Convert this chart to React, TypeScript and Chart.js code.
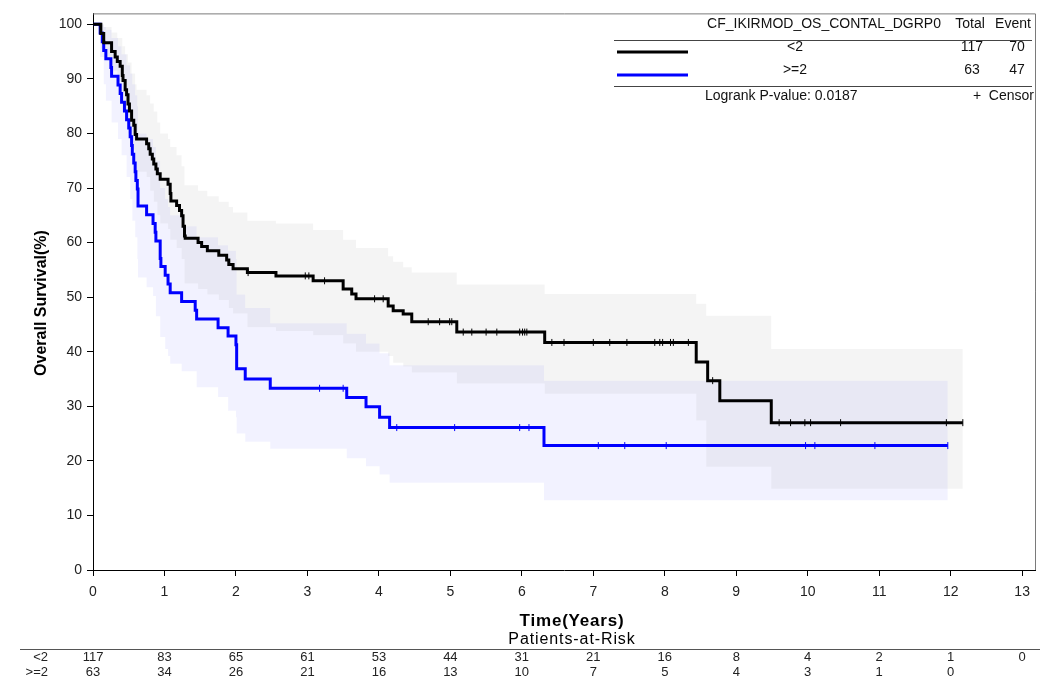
import { useEffect, useRef } from 'react';
import { Chart, registerables } from 'chart.js';

Chart.register(...registerables);

const FONT = "'Liberation Sans', Arial, sans-serif";

// Axis ticks
const xTicks = [0, 1, 2, 3, 4, 5, 6, 7, 8, 9, 10, 11, 12, 13];
const yTicks = [0, 10, 20, 30, 40, 50, 60, 70, 80, 90, 100];

// Groups
const groupLabels = ['<2', '>=2'];
const groupTotals = [117, 63];
const groupEvents = [70, 47];
const logrankP = '0.0187';

// Kaplan-Meier estimate, group <2 (time in years, survival in %)
const lowTimes = [0, 0.11, 0.15, 0.26, 0.31, 0.34, 0.38, 0.41, 0.42, 0.45, 0.47, 0.49, 0.51, 0.54, 0.57, 0.59, 0.61, 0.75, 0.78, 0.8, 0.83, 0.85, 0.88, 0.9, 0.94, 1.05, 1.08, 1.09, 1.17, 1.21, 1.24, 1.26, 1.28, 1.29, 1.47, 1.52, 1.6, 1.76, 1.87, 1.9, 1.96, 2.16, 2.56, 3.08, 3.5, 3.62, 3.68, 4.13, 4.2, 4.34, 4.46, 5.09, 6.32, 8.44, 8.6, 8.77, 9.49];
const lowSurv = [100, 98.3, 96.6, 95.0, 94.0, 93.2, 92.3, 90.6, 89.7, 88.0, 87.1, 85.4, 84.1, 82.4, 81.5, 79.8, 79.0, 78.1, 77.2, 76.2, 75.3, 74.4, 73.5, 72.6, 71.6, 70.7, 69.0, 67.6, 66.8, 65.9, 64.9, 63.0, 61.2, 60.8, 60.0, 59.3, 58.5, 57.7, 56.8, 56.0, 55.2, 54.5, 53.9, 53.0, 51.5, 50.6, 49.7, 48.4, 47.5, 46.9, 45.5, 43.6, 41.7, 38.1, 34.7, 31.0, 27.0];
const lowEnd = 12.17;
const lowCensor = [2.17, 2.97, 3.02, 3.24, 3.94, 4.06, 4.69, 4.85, 4.99, 5.02, 5.18, 5.3, 5.5, 5.65, 5.97, 6.01, 6.04, 6.07, 6.42, 6.59, 7.0, 7.23, 7.47, 7.86, 7.93, 7.97, 8.08, 8.12, 8.33, 8.67, 9.6, 9.76, 9.96, 10.04, 10.46, 11.94, 12.17];

// 95% confidence band, group <2
const lowBandTimes = [0, 0.11, 0.15, 0.26, 0.34, 0.41, 0.45, 0.49, 0.54, 0.59, 0.61, 0.75, 0.8, 0.85, 0.9, 0.94, 1.05, 1.08, 1.17, 1.24, 1.28, 1.47, 1.6, 1.76, 1.9, 1.96, 2.16, 2.56, 3.08, 3.5, 3.68, 4.13, 4.2, 4.34, 4.46, 5.09, 6.32, 8.44, 8.58, 9.49];
const lowUpper = [100, 100, 99.5, 98.5, 97.5, 96, 94.5, 93, 91, 89, 88, 87, 85.5, 84, 82, 80, 79, 77.5, 76, 74, 70.5, 69.5, 68.5, 67.5, 66.5, 65.5, 64, 63.5, 62.3, 60.5, 59, 57.5, 56.5, 55.5, 54.5, 52.3, 50.6, 48.8, 46.6, 40.5];
const lowLower = [100, 95.5, 93.5, 91.5, 89.5, 86, 83.5, 80, 77, 74.5, 73, 72, 69.5, 67.5, 65, 63.5, 62.5, 60.5, 59, 57, 52.5, 51.5, 50.5, 49.5, 48, 47, 44.5, 43.8, 43.0, 41.5, 40, 39.2, 38.0, 37.3, 36.2, 34.2, 32.3, 27.4, 18.9, 14.9];

// Kaplan-Meier estimate, group >=2
const highTimes = [0, 0.1, 0.13, 0.15, 0.18, 0.25, 0.26, 0.35, 0.38, 0.4, 0.44, 0.47, 0.5, 0.52, 0.54, 0.55, 0.57, 0.59, 0.6, 0.62, 0.63, 0.75, 0.84, 0.87, 0.88, 0.94, 0.95, 1.01, 1.05, 1.08, 1.24, 1.43, 1.45, 1.75, 1.89, 2.0, 2.01, 2.13, 2.48, 3.55, 3.82, 4.01, 4.15, 6.31];
const highSurv = [100, 98.4, 96.8, 95.2, 93.7, 92.1, 90.5, 88.9, 87.3, 85.7, 84.1, 82.5, 81.0, 79.4, 77.8, 76.2, 74.6, 73.0, 71.4, 69.8, 66.7, 65.1, 63.5, 61.9, 60.3, 57.1, 55.6, 54.0, 52.4, 50.8, 49.2, 47.6, 46.0, 44.4, 42.9, 41.3, 36.9, 35.0, 33.3, 31.6, 29.9, 28.0, 26.1, 22.8];
const highEnd = 11.96;
const highCensor = [3.17, 3.5, 4.25, 5.06, 5.97, 6.1, 7.07, 7.44, 8.02, 9.97, 10.1, 10.94, 11.96];

// 95% confidence band, group >=2
const highBandTimes = [0, 0.1, 0.15, 0.18, 0.26, 0.35, 0.4, 0.47, 0.52, 0.55, 0.59, 0.62, 0.63, 0.75, 0.84, 0.88, 0.94, 1.01, 1.05, 1.08, 1.24, 1.45, 1.75, 1.89, 2.0, 2.01, 2.13, 2.48, 3.55, 3.82, 4.01, 4.15, 6.31];
const highUpper = [100, 100, 99.5, 99, 97.5, 96, 94.5, 92.5, 91, 89, 87, 85, 80, 79, 77.5, 75, 70, 68, 66.5, 65, 63, 61, 59.5, 58.5, 57, 50.5, 48, 45.2, 43.3, 41.5, 39.7, 37.5, 34.7];
const highLower = [100, 94, 89, 86, 82, 79, 76, 72, 68, 64, 61, 57, 53.6, 51.8, 50.2, 46.5, 42.7, 40.5, 39.2, 37.8, 36.4, 33.5, 31.7, 29.2, 28, 25.0, 23.5, 22.2, 20.5, 19.0, 17.5, 16.0, 12.8];

// Patients at risk at each year
const riskLow = [117, 83, 65, 61, 53, 44, 31, 21, 16, 8, 4, 2, 1, 0];
const riskHigh = [63, 34, 26, 21, 16, 13, 10, 7, 5, 4, 3, 1, 0];

const stepPoints = (times: number[], vals: number[], end: number) => {
  const pts = times.map((t, i) => ({ x: t, y: vals[i] }));
  pts.push({ x: end, y: vals[vals.length - 1] });
  return pts;
};

const survivalAt = (times: number[], vals: number[], t: number) => {
  let v = vals[0];
  for (let i = 0; i < times.length; i++) {
    if (times[i] <= t) v = vals[i];
  }
  return v;
};

const censorPoints = (censor: number[], times: number[], vals: number[]) =>
  censor.map((t) => ({ x: t, y: survivalAt(times, vals, t) }));

const overlayPlugin = {
  id: 'kmOverlay',
  afterDraw(chart: any) {
    const { ctx, chartArea } = chart;
    const xs = chart.scales.x;
    ctx.save();

    // plot frame (top and right)
    ctx.strokeStyle = '#7a7a7a';
    ctx.lineWidth = 1;
    ctx.beginPath();
    ctx.moveTo(chartArea.left, chartArea.top + 0.5);
    ctx.lineTo(chartArea.right + 0.5, chartArea.top + 0.5);
    ctx.lineTo(chartArea.right + 0.5, chartArea.bottom);
    ctx.stroke();

    ctx.fillStyle = '#000';
    ctx.textBaseline = 'middle';

    // axis titles
    ctx.font = `bold 16px ${FONT}`;
    ctx.textAlign = 'center';
    ctx.save();
    ctx.translate(42, 303);
    ctx.rotate(-Math.PI / 2);
    ctx.fillText('Overall Survival(%)', 0, 0);
    ctx.restore();
    ctx.font = `bold 17px ${FONT}`;
    ctx.letterSpacing = '0.8px';
    ctx.fillText('Time(Years)', 572, 621);

    // patients-at-risk heading
    ctx.font = `16px ${FONT}`;
    ctx.letterSpacing = '0.9px';
    ctx.fillText('Patients-at-Risk', 572, 640);
    ctx.letterSpacing = '0px';

    // legend block
    ctx.font = `14px ${FONT}`;
    ctx.fillStyle = '#111';
    ctx.textAlign = 'center';
    ctx.fillText('CF_IKIRMOD_OS_CONTAL_DGRP0', 824, 24);
    ctx.fillText('Total', 970, 24);
    ctx.fillText('Event', 1013, 24);
    ctx.strokeStyle = '#444';
    ctx.beginPath();
    ctx.moveTo(614, 40.5);
    ctx.lineTo(1032, 40.5);
    ctx.moveTo(614, 86.5);
    ctx.lineTo(1032, 86.5);
    ctx.stroke();

    const rowY = [47, 70];
    const lineY = [52, 75];
    const colors = ['#000000', '#0000ff'];
    groupLabels.forEach((g, i) => {
      ctx.strokeStyle = colors[i];
      ctx.lineWidth = 3;
      ctx.beginPath();
      ctx.moveTo(617, lineY[i]);
      ctx.lineTo(688, lineY[i]);
      ctx.stroke();
      ctx.fillStyle = '#111';
      ctx.textAlign = 'center';
      ctx.fillText(g, 795, rowY[i]);
      ctx.fillText(String(groupTotals[i]), 972, rowY[i]);
      ctx.fillText(String(groupEvents[i]), 1017, rowY[i]);
    });
    ctx.textAlign = 'left';
    ctx.fillText(`Logrank P-value: ${logrankP}`, 705, 96);
    ctx.textAlign = 'right';
    ctx.fillText('+  Censor', 1034, 96);

    // patients-at-risk table
    ctx.strokeStyle = '#555';
    ctx.lineWidth = 1;
    ctx.beginPath();
    ctx.moveTo(20, 649.5);
    ctx.lineTo(1040, 649.5);
    ctx.stroke();

    ctx.font = `13px ${FONT}`;
    ctx.fillStyle = '#222';
    ctx.textAlign = 'right';
    ctx.fillText(groupLabels[0], 48, 657);
    ctx.fillText(groupLabels[1], 48, 672);
    ctx.textAlign = 'center';
    riskLow.forEach((n, i) => ctx.fillText(String(n), xs.getPixelForValue(xTicks[i]), 657));
    riskHigh.forEach((n, i) => ctx.fillText(String(n), xs.getPixelForValue(xTicks[i]), 672));

    ctx.restore();
  },
};

export default function App() {
  const canvasRef = useRef<HTMLCanvasElement | null>(null);

  useEffect(() => {
    const canvas = canvasRef.current;
    if (!canvas) return;

    const band = (data: any[], color: string, fill: any) => ({
      type: 'line',
      data,
      stepped: true,
      borderWidth: 0,
      borderColor: 'rgba(0,0,0,0)',
      backgroundColor: color,
      pointRadius: 0,
      fill,
      order: 2,
    });

    const curve = (data: any[], color: string) => ({
      type: 'line',
      data,
      stepped: true,
      borderWidth: 3,
      borderColor: color,
      pointRadius: 0,
      fill: false,
      borderJoinStyle: 'miter',
      order: 1,
    });

    const censors = (data: any[], color: string) => ({
      type: 'line',
      data,
      showLine: false,
      pointStyle: 'line',
      rotation: 90,
      pointRadius: 3.5,
      pointBorderWidth: 1,
      pointBorderColor: color,
      borderColor: color,
      fill: false,
      order: 0,
    });

    const chart = new Chart(canvas, {
      type: 'line',
      data: {
        datasets: [
          band(stepPoints(lowBandTimes, lowUpper, lowEnd), 'rgba(0,0,0,0.045)', '+1'),
          band(stepPoints(lowBandTimes, lowLower, lowEnd), 'rgba(0,0,0,0)', false),
          band(stepPoints(highBandTimes, highUpper, highEnd), 'rgba(0,0,255,0.05)', '+1'),
          band(stepPoints(highBandTimes, highLower, highEnd), 'rgba(0,0,0,0)', false),
          curve(stepPoints(lowTimes, lowSurv, lowEnd), '#000000'),
          curve(stepPoints(highTimes, highSurv, highEnd), '#0000ff'),
          censors(censorPoints(lowCensor, lowTimes, lowSurv), '#000000'),
          censors(censorPoints(highCensor, highTimes, highSurv), '#0000ff'),
        ] as any,
      },
      options: {
        animation: false,
        responsive: false,
        devicePixelRatio: 1,
        events: [],
        layout: { padding: { left: 0, top: 12, right: 23, bottom: 63 } },
        plugins: {
          legend: { display: false },
          tooltip: { enabled: false },
          filler: { propagate: false },
        },
        scales: {
          x: {
            type: 'linear',
            min: 0,
            max: 13.18,
            afterBuildTicks: (s: any) => {
              s.ticks = xTicks.map((v) => ({ value: v }));
            },
            afterFit: (s: any) => {
              s.height = 60;
            },
            grid: { drawOnChartArea: false, drawTicks: true, tickLength: 6, color: '#000' },
            border: { color: '#000', width: 1 },
            ticks: {
              font: { family: FONT, size: 14 },
              color: '#222',
              padding: 8,
              maxRotation: 0,
              autoSkip: false,
            },
          },
          y: {
            type: 'linear',
            min: 0,
            max: 102,
            afterBuildTicks: (s: any) => {
              s.ticks = yTicks.map((v) => ({ value: v }));
            },
            afterFit: (s: any) => {
              s.width = 93;
            },
            grid: { drawOnChartArea: false, drawTicks: true, tickLength: 6, color: '#000' },
            border: { color: '#000', width: 1 },
            ticks: {
              font: { family: FONT, size: 14 },
              color: '#222',
              padding: 5,
              autoSkip: false,
            },
          },
        },
      } as any,
      plugins: [overlayPlugin],
    });

    return () => chart.destroy();
  }, []);

  return (
    <div style={{ position: 'absolute', left: 0, top: 0, width: 1058, height: 693, background: '#fff' }}>
      <canvas ref={canvasRef} width={1058} height={693} style={{ width: 1058, height: 693, display: 'block' }} />
    </div>
  );
}
